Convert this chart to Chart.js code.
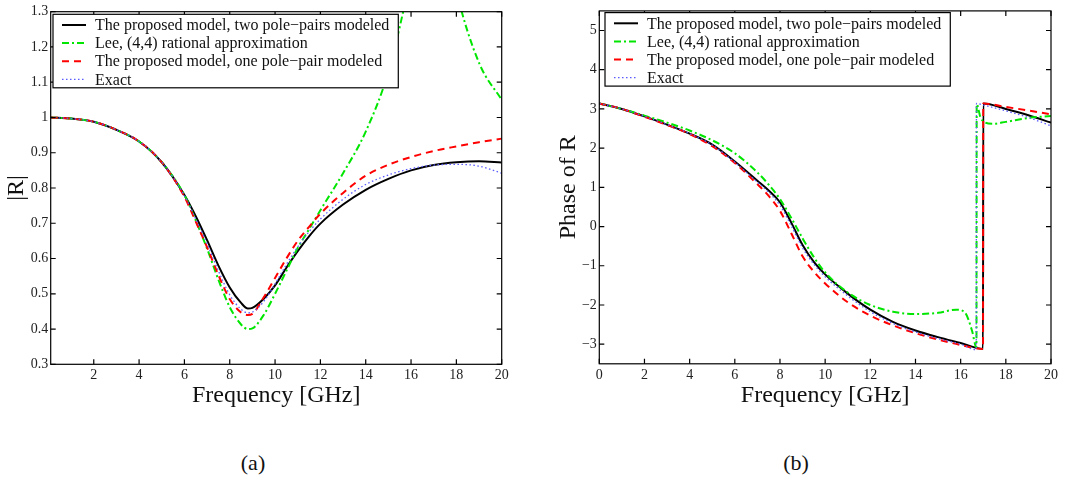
<!DOCTYPE html>
<html>
<head>
<meta charset="utf-8">
<script src="https://cdn.jsdelivr.net/npm/chart.js@4.4.1/dist/chart.umd.min.js"></script>
<style>
  body { margin: 0; background: #fff; width: 1068px; height: 481px; position: relative; overflow: hidden; font-family: "Liberation Serif", serif; }
  .box { position: absolute; top: 0; width: 534px; height: 420px; }
  .cap { position: absolute; top: 450px; font-size: 22px; color: #111; transform: translateX(-50%); }
</style>
</head>
<body>
<div class="box" style="left:0"><canvas id="magChart"></canvas></div>
<div class="box" style="left:534px"><canvas id="phaseChart"></canvas></div>
<div class="cap" style="left:253px">(a)</div>
<div class="cap" style="left:796px">(b)</div>
<script>
// legend entries (same for both panels)
const seriesNames = [
  'The proposed model, two pole\u2212pairs modeled',
  'Lee, (4,4) rational approximation',
  'The proposed model, one pole\u2212pair modeled',
  'Exact'
];

// (a) magnitude |R| vs frequency [GHz]
const magFreq  = [0.1, 1, 2, 3, 4, 5, 6, 6.5, 7, 7.5, 8, 8.5, 8.8, 9, 9.5, 10, 10.5, 11, 11.5, 12, 13, 14, 15, 16, 17, 18, 19, 20];
const magTwo   = [1.0, 0.997, 0.988, 0.965, 0.932, 0.873, 0.78, 0.72, 0.652, 0.58, 0.518, 0.474, 0.458, 0.46, 0.486, 0.524, 0.574, 0.621, 0.663, 0.699, 0.753, 0.795, 0.826, 0.85, 0.865, 0.873, 0.876, 0.872];
const magLee   = [1.0, 0.997, 0.988, 0.965, 0.932, 0.873, 0.78, 0.708, 0.628, 0.54, 0.462, 0.413, 0.4, 0.402, 0.44, 0.5, 0.565, 0.63, 0.683, 0.737, 0.842, 0.96, 1.13, 1.4, 1.7, 1.36, 1.155, 1.05];
const magOne   = [1.0, 0.997, 0.988, 0.965, 0.932, 0.873, 0.775, 0.705, 0.632, 0.553, 0.485, 0.447, 0.44, 0.443, 0.49, 0.545, 0.6, 0.65, 0.69, 0.727, 0.786, 0.835, 0.866, 0.888, 0.905, 0.918, 0.93, 0.94];
const magExact = [1.0, 0.997, 0.988, 0.965, 0.932, 0.873, 0.778, 0.712, 0.642, 0.565, 0.497, 0.456, 0.446, 0.448, 0.478, 0.528, 0.583, 0.633, 0.676, 0.712, 0.768, 0.81, 0.837, 0.855, 0.865, 0.867, 0.862, 0.842];

// (b) phase of R vs frequency; each series has its own sampling around the wrap
const phaseTwoFreq   = [0, 1, 2, 3, 4, 5, 6, 7, 7.5, 8, 8.5, 9, 9.5, 10, 11, 12, 13, 14, 15, 16, 16.99, 17, 18, 19, 20];
const phaseTwo       = [3.14, 3.0, 2.81, 2.6, 2.37, 2.09, 1.66, 1.17, 0.92, 0.62, 0.1, -0.47, -0.9, -1.22, -1.71, -2.12, -2.43, -2.65, -2.82, -2.97, -3.12, 3.14, 3.0, 2.84, 2.65];
const phaseLeeFreq   = [0, 1, 2, 3, 4, 5, 6, 7, 7.5, 8, 8.5, 9, 9.5, 10, 11, 12, 13, 14, 15, 15.8, 16.2, 16.5, 16.7, 16.71, 16.9, 17.4, 18, 19, 20];
const phaseLee       = [3.14, 3.0, 2.83, 2.65, 2.45, 2.2, 1.87, 1.38, 1.07, 0.7, 0.22, -0.3, -0.78, -1.17, -1.68, -2.0, -2.17, -2.23, -2.2, -2.12, -2.2, -2.65, -3.08, 3.12, 2.75, 2.62, 2.67, 2.77, 2.82];
const phaseOneFreq   = [0, 1, 2, 3, 4, 5, 6, 7, 7.5, 8, 8.5, 9, 9.5, 10, 11, 12, 13, 14, 15, 16, 16.99, 17, 18, 19, 20];
const phaseOne       = [3.14, 3.0, 2.8, 2.59, 2.36, 2.05, 1.62, 1.08, 0.78, 0.4, -0.17, -0.76, -1.15, -1.45, -1.93, -2.27, -2.52, -2.72, -2.88, -3.02, -3.12, 3.14, 3.05, 2.96, 2.86];
const phaseExactFreq = [0, 1, 2, 3, 4, 5, 6, 7, 7.5, 8, 8.5, 9, 9.5, 10, 11, 12, 13, 14, 15, 16, 16.69, 16.7, 17, 18, 19, 20];
const phaseExact     = [3.14, 3.0, 2.81, 2.6, 2.37, 2.08, 1.64, 1.13, 0.87, 0.54, 0.02, -0.54, -0.96, -1.28, -1.77, -2.17, -2.47, -2.69, -2.86, -3.0, -3.14, 3.14, 3.1, 2.95, 2.78, 2.57];

// axis ticks
const magXTicks   = [2, 4, 6, 8, 10, 12, 14, 16, 18, 20];
const magYTicks   = [0.3, 0.4, 0.5, 0.6, 0.7, 0.8, 0.9, 1.0, 1.1, 1.2, 1.3];
const phaseXTicks = [0, 2, 4, 6, 8, 10, 12, 14, 16, 18, 20];
const phaseYTicks = [-3, -2, -1, 0, 1, 2, 3, 4, 5];

const FONT = '"Liberation Serif", "Times New Roman", serif';

const styles = [
  { color: '#000000', width: 2,   dash: [] },
  { color: '#00e600', width: 2,   dash: [7, 3, 2, 3] },
  { color: '#ff0000', width: 2,   dash: [7, 5] },
  { color: '#5a5aff', width: 1.3, dash: [1.5, 2.5] }
];

function pts(xs, ys) {
  return xs.map((x, i) => ({ x: x, y: ys[i] }));
}

// frame with inward ticks on all four sides + boxed legend in the top-left corner
const framePlugin = {
  id: 'frame',
  afterDraw(chart, args, opts) {
    const { ctx, chartArea: a, scales: { x, y } } = chart;
    ctx.save();
    ctx.strokeStyle = '#000';
    ctx.lineWidth = 1.2;
    ctx.setLineDash([]);
    ctx.strokeRect(a.left, a.top, a.right - a.left, a.bottom - a.top);
    ctx.beginPath();
    x.ticks.forEach(t => {
      const p = x.getPixelForValue(t.value);
      ctx.moveTo(p, a.bottom); ctx.lineTo(p, a.bottom - 5);
      ctx.moveTo(p, a.top); ctx.lineTo(p, a.top + 5);
    });
    y.ticks.forEach(t => {
      const p = y.getPixelForValue(t.value);
      ctx.moveTo(a.left, p); ctx.lineTo(a.left + 5, p);
      ctx.moveTo(a.right, p); ctx.lineTo(a.right - 5, p);
    });
    ctx.stroke();

    // legend
    ctx.font = '16px ' + FONT;
    const maxW = Math.max(...seriesNames.map(s => ctx.measureText(s).width));
    const bl = a.left + opts.dx, bt = a.top + opts.dy;
    const bw = 42 + maxW + 9, bh = 73.5;
    ctx.fillStyle = '#fff';
    ctx.fillRect(bl, bt, bw, bh);
    ctx.strokeRect(bl, bt, bw, bh);
    chart.data.datasets.forEach((ds, i) => {
      const ry = bt + 10.7 + i * 18.1;
      ctx.strokeStyle = ds.borderColor;
      ctx.lineWidth = ds.borderWidth;
      ctx.setLineDash(ds.borderDash);
      ctx.beginPath();
      ctx.moveTo(bl + 9, ry); ctx.lineTo(bl + 33, ry);
      ctx.stroke();
      ctx.fillStyle = '#111';
      ctx.textBaseline = 'middle';
      ctx.fillText(seriesNames[i], bl + 42, ry + 1);
    });
    ctx.restore();
  }
};

function makeChart(id, cfg) {
  const datasets = cfg.series.map((s, i) => ({
    label: seriesNames[i],
    data: s,
    borderColor: styles[i].color,
    borderWidth: styles[i].width,
    borderDash: styles[i].dash,
    pointRadius: 0,
    fill: false,
    cubicInterpolationMode: 'monotone',
    order: 4 - i
  }));
  return new Chart(document.getElementById(id), {
    type: 'line',
    data: { datasets: datasets },
    plugins: [framePlugin],
    options: {
      responsive: true,
      maintainAspectRatio: false,
      animation: false,
      layout: { padding: { left: 0, right: cfg.padRight, top: cfg.padTop, bottom: 0 } },
      plugins: {
        legend: { display: false },
        tooltip: { enabled: false },
        frame: { dx: cfg.legendDx, dy: cfg.legendDy }
      },
      scales: {
        x: {
          type: 'linear',
          min: cfg.xMin, max: cfg.xMax,
          afterBuildTicks: s => { s.ticks = cfg.xTicks.map(v => ({ value: v })); },
          afterFit: s => { s.height = cfg.xHeight; },
          grid: { display: false, drawTicks: false },
          border: { display: false },
          ticks: {
            font: { family: FONT, size: 14 }, color: '#222', padding: 3,
            maxRotation: 0, autoSkip: false,
            callback: v => String(v)
          },
          title: {
            display: true, text: 'Frequency [GHz]', color: '#111',
            font: { family: FONT, size: 24, lineHeight: 1.2 },
            padding: { top: 0, bottom: 9.5 }
          }
        },
        y: {
          type: 'linear',
          min: cfg.yMin, max: cfg.yMax,
          afterBuildTicks: s => { s.ticks = cfg.yTicks.map(v => ({ value: v })); },
          afterFit: s => { s.width = cfg.yWidth; },
          grid: { display: false, drawTicks: false },
          border: { display: false },
          ticks: {
            font: { family: FONT, size: 14 }, color: '#222', padding: 2.5,
            autoSkip: false,
            callback: v => {
              const n = parseFloat(Number(v).toFixed(1));
              return n < 0 ? '\u2212' + Math.abs(n) : String(n);
            }
          },
          title: {
            display: true, text: cfg.yTitle, color: '#111',
            font: { family: FONT, size: 24, lineHeight: 1.2 },
            padding: { top: cfg.yTitlePad, bottom: 0 }
          }
        }
      }
    }
  });
}

makeChart('magChart', {
  series: [pts(magFreq, magTwo), pts(magFreq, magLee), pts(magFreq, magOne), pts(magFreq, magExact)],
  xMin: 0.1, xMax: 20, yMin: 0.3, yMax: 1.3,
  xTicks: magXTicks, yTicks: magYTicks,
  yTitle: '|R|', yTitlePad: 2.6,
  yWidth: 50.7, xHeight: 55.7, padRight: 32.3, padTop: 11.7,
  legendDx: 2.3, legendDy: 2.6
});

makeChart('phaseChart', {
  series: [pts(phaseTwoFreq, phaseTwo), pts(phaseLeeFreq, phaseLee), pts(phaseOneFreq, phaseOne), pts(phaseExactFreq, phaseExact)],
  xMin: 0, xMax: 20, yMin: -3.5, yMax: 5.5,
  xTicks: phaseXTicks, yTicks: phaseYTicks,
  yTitle: 'Phase of R', yTitlePad: 20.6,
  yWidth: 65.3, xHeight: 56.2, padRight: 17, padTop: 8.3,
  legendDx: 5.7, legendDy: 1.7
});
</script>
</body>
</html>
